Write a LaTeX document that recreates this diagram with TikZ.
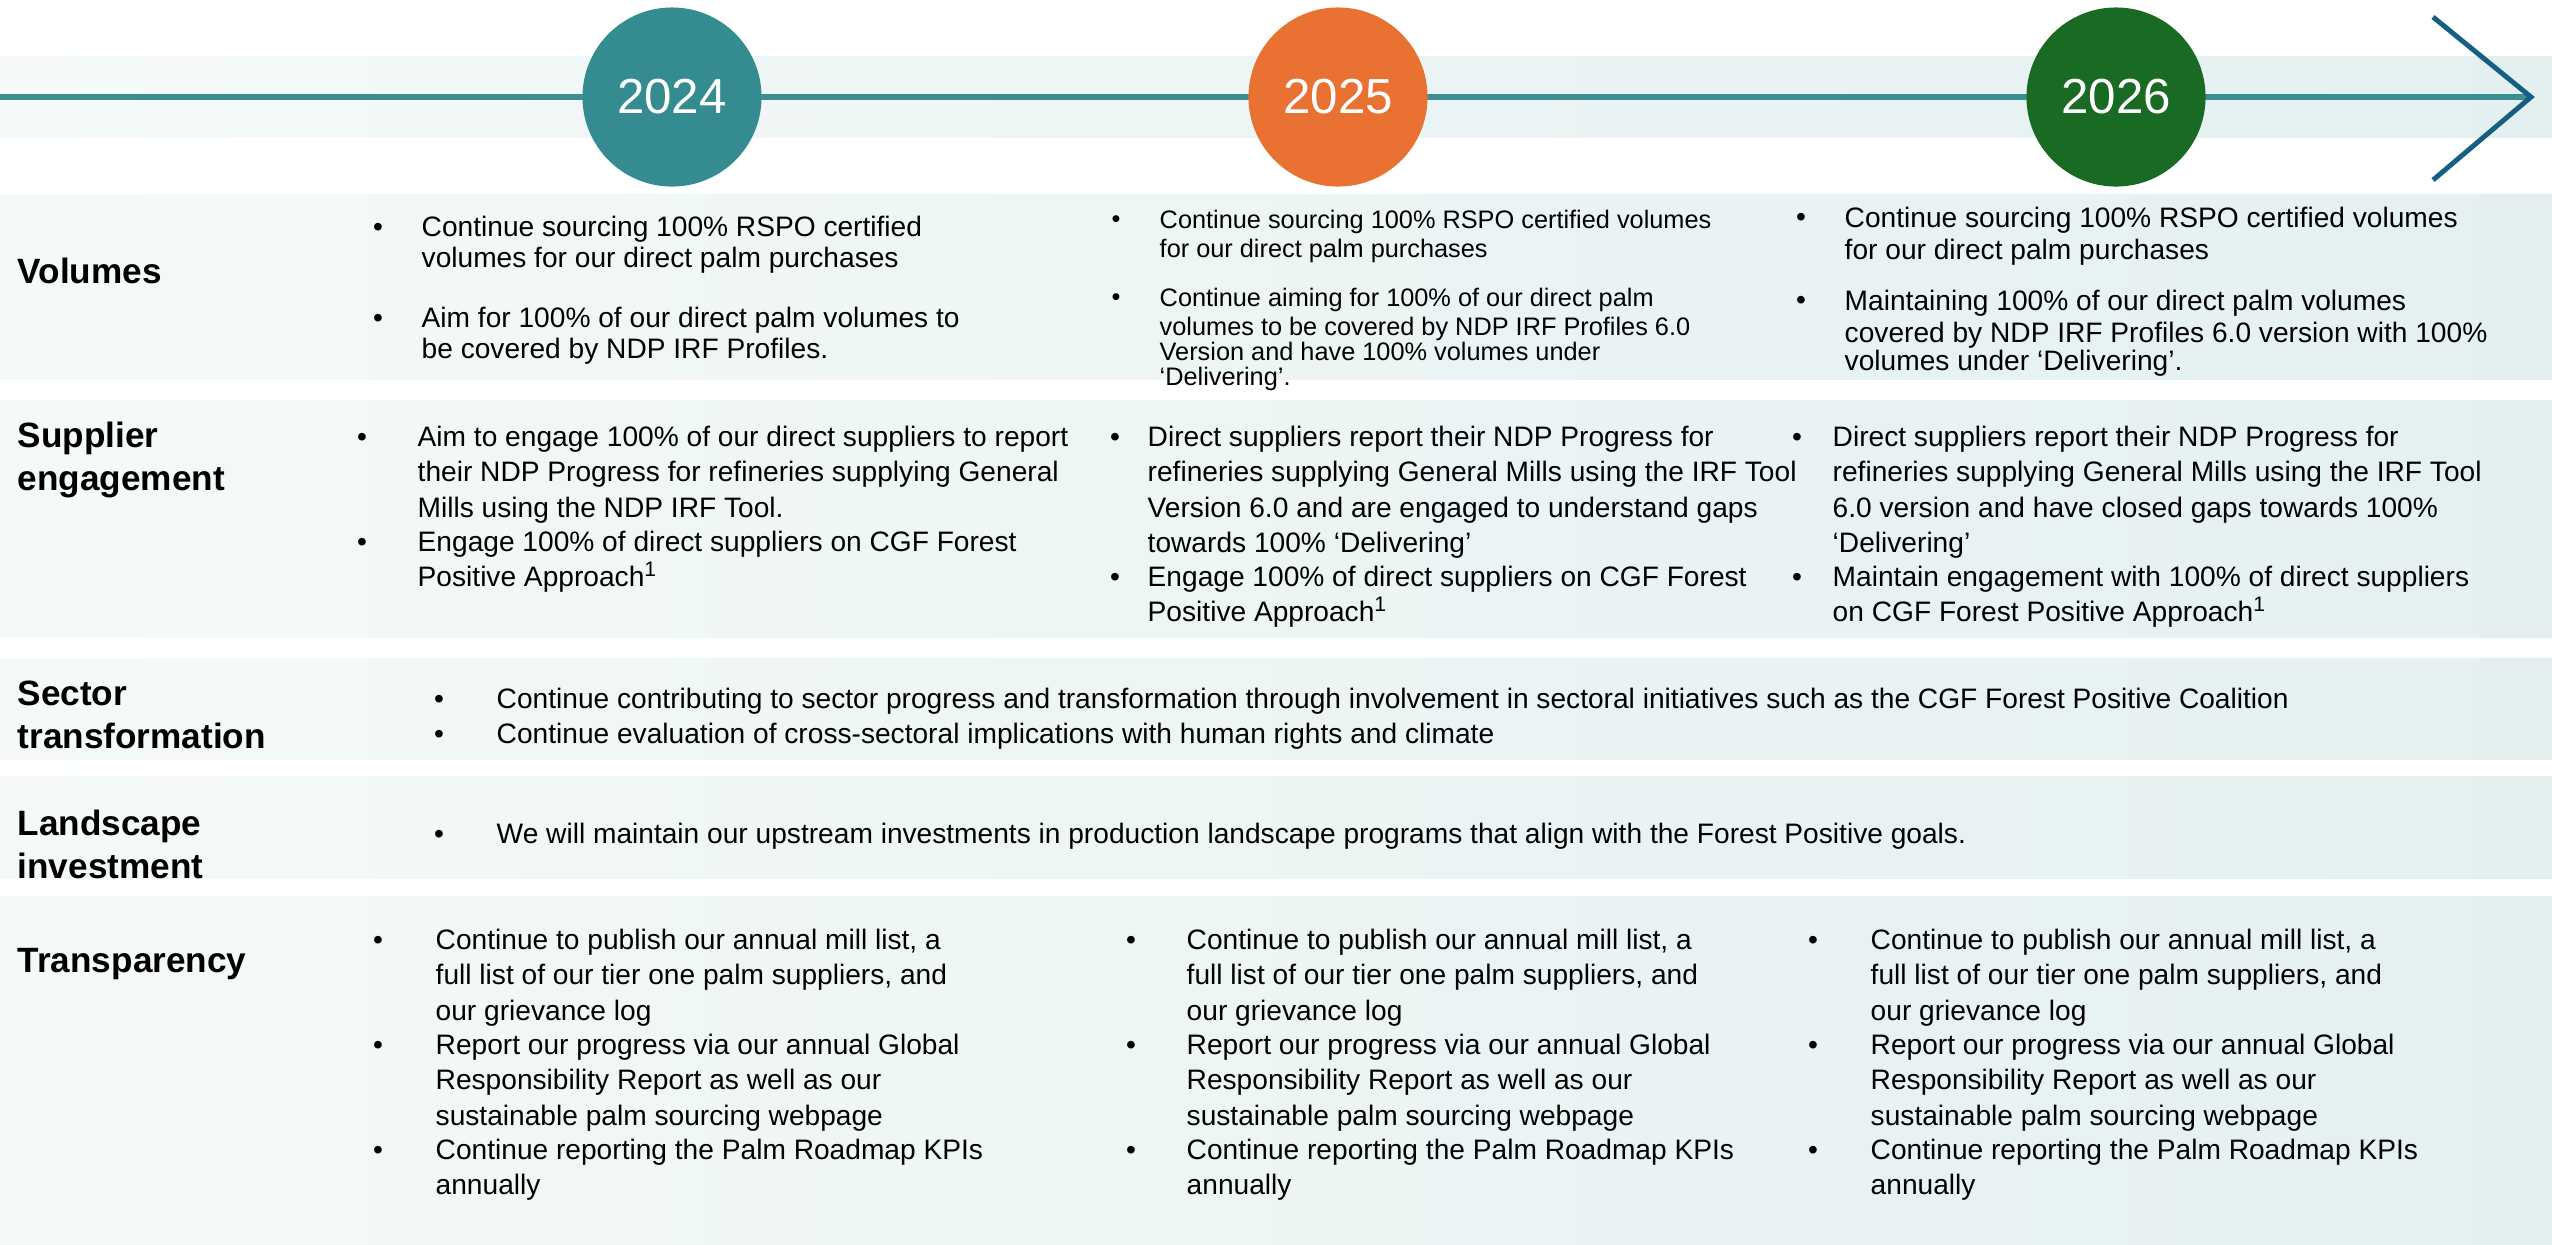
\documentclass[tikz,border=0pt]{standalone}
\usepackage{fontspec}
\setmainfont{Liberation Sans}

\definecolor{bandL}{RGB}{245,249,249}
\definecolor{bandR}{RGB}{228,240,240}
\definecolor{teal24}{RGB}{52,140,145}
\definecolor{orange25}{RGB}{233,113,50}
\definecolor{green26}{RGB}{25,107,36}
\definecolor{chev}{RGB}{21,96,130}
\definecolor{tline}{RGB}{60,142,146}

% bullet item: name, style, bullet x, text x, top y, text
\newcommand{\bitem}[6]{%
  \node[#2, anchor=north] (#1b) at (#3,#5) {\strut\textbullet};
  \node[#2, anchor=north west] (#1) at (#4,#5) {\strut #6};
}

\tikzset{
  body/.style={inner sep=0pt, align=left, font=\fontsize{8}{10}\selectfont},
  volA/.style={inner sep=0pt, align=left, font=\fontsize{8}{8.7}\selectfont},
  volB/.style={inner sep=0pt, align=left, font=\fontsize{7.2}{7.1}\selectfont},
  volC/.style={inner sep=0pt, align=left, font=\fontsize{8}{8}\selectfont},
  lab/.style={inner sep=0pt, align=left, font=\fontsize{10}{12.2}\selectfont\bfseries},
  year/.style={circle, minimum size=1.79cm, inner sep=0pt, text=white, font=\fontsize{14}{16}\selectfont}
}

\begin{document}
\begin{tikzpicture}[x=0.01cm, y=-0.01cm]
  % Parameters
  \def\W{2552} % picture width
  \def\H{1244} % picture height
  \def\ty{97} % timeline y

  \useasboundingbox (0,0) rectangle (\W,\H);
  \fill[white] (0,0) rectangle (\W,\H);

  % bands (timeline band and one per row)
  \foreach \a/\b in {56/137,194/379,400/637,658/759,776/878,896/1244}
    {\shade[left color=bandL, right color=bandR] (0,\a) rectangle (\W,\b);}

  % timeline with open arrow head
  \coordinate (start) at (0,\ty);
  \coordinate (tip) at (2531,\ty);
  \coordinate (chevT) at (2433,17);
  \coordinate (chevB) at (2433,180);
  \draw[tline, line width=1.7pt] (start) -- (tip);
  \draw[chev, line width=1.4pt] (chevT) -- (tip) -- (chevB);

  % years
  \node[year, fill=teal24] (y2024) at (672,\ty) {2024};
  \node[year, fill=orange25] (y2025) at (1338,\ty) {2025};
  \node[year, fill=green26] (y2026) at (2116,\ty) {2026};

  % row labels
  \node[lab, anchor=base west] (labVol) at (17,283) {Volumes};
  \node[lab, anchor=north west] (labSup) at (17,417) {\strut Supplier\\engagement};
  \node[lab, anchor=north west] (labSec) at (17,675) {\strut Sector\\transformation};
  \node[lab, anchor=north west] (labLand) at (17,805) {\strut Landscape\\investment};
  \node[lab, anchor=base west] (labTra) at (17,972) {Transparency};

  % Volumes
  \bitem{vol24a}{volA}{378}{421}{214.6}{Continue sourcing 100\% RSPO certified\\volumes for our direct palm purchases}
  \bitem{vol24b}{volA}{378}{421}{305.6}{Aim for 100\% of our direct palm volumes to\\be covered by NDP IRF Profiles.}
  \bitem{vol25a}{volB}{1116}{1159}{209.5}{Continue sourcing 100\% RSPO certified volumes\\for our direct palm purchases}
  \bitem{vol25b}{volB}{1116}{1159}{287.5}{Continue aiming for 100\% of our direct palm\\volumes to be covered by NDP IRF Profiles 6.0\\Version and have 100\% volumes under\\‘Delivering’.}
  \bitem{vol26a}{volC}{1801}{1844}{206.3}{Continue sourcing 100\% RSPO certified volumes\\for our direct palm purchases}
  \bitem{vol26b}{volC}{1801}{1844}{289.3}{Maintaining 100\% of our direct palm volumes\\covered by NDP IRF Profiles 6.0 version with 100\%\\volumes under ‘Delivering’.}

  % Supplier engagement
  \bitem{sup24a}{body}{362}{417}{421.4}{Aim to engage 100\% of our direct suppliers to report\\their NDP Progress for refineries supplying General\\Mills using the NDP IRF Tool.}
  \bitem{sup24b}{body}{362}{417}{526.4}{Engage 100\% of direct suppliers on CGF Forest\\Positive Approach\textsuperscript{1}}
  \bitem{sup25a}{body}{1115}{1147}{421.4}{Direct suppliers report their NDP Progress for\\refineries supplying General Mills using the IRF Tool\\Version 6.0 and are engaged to understand gaps\\towards 100\% ‘Delivering’}
  \bitem{sup25b}{body}{1115}{1147}{561.4}{Engage 100\% of direct suppliers on CGF Forest\\Positive Approach\textsuperscript{1}}
  \bitem{sup26a}{body}{1797}{1832}{421.4}{Direct suppliers report their NDP Progress for\\refineries supplying General Mills using the IRF Tool\\6.0 version and have closed gaps towards 100\%\\‘Delivering’}
  \bitem{sup26b}{body}{1797}{1832}{561.4}{Maintain engagement with 100\% of direct suppliers\\on CGF Forest Positive Approach\textsuperscript{1}}

  % Sector transformation
  \bitem{sec1}{body}{439}{496}{683.4}{Continue contributing to sector progress and transformation through involvement in sectoral initiatives such as the CGF Forest Positive Coalition}
  \bitem{sec2}{body}{439}{496}{718.4}{Continue evaluation of cross-sectoral implications with human rights and climate}

  % Landscape investment
  \bitem{land1}{body}{439}{496}{818.4}{We will maintain our upstream investments in production landscape programs that align with the Forest Positive goals.}

  % Transparency (same text each year)
  \foreach \c/\bx/\tx in {24/378/435,25/1131/1186,26/1813/1870}
    {\bitem{tr\c a}{body}{\bx}{\tx}{924.4}{Continue to publish our annual mill list, a\\full list of our tier one palm suppliers, and\\our grievance log}
     \bitem{tr\c b}{body}{\bx}{\tx}{1029.4}{Report our progress via our annual Global\\Responsibility Report as well as our\\sustainable palm sourcing webpage}
     \bitem{tr\c c}{body}{\bx}{\tx}{1134.4}{Continue reporting the Palm Roadmap KPIs\\annually}}

\end{tikzpicture}
\end{document}
